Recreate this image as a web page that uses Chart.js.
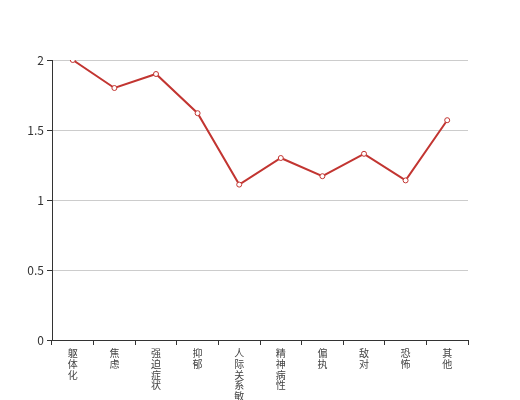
<!DOCTYPE html>
<html>
<head>
<meta charset="utf-8">
<script src="https://cdn.jsdelivr.net/npm/chart.js@4"></script>
<style>
  body { margin: 0; background: #fff; }
  #wrap { width: 520px; height: 400px; }
</style>
</head>
<body>
<div id="wrap"><canvas id="myChart"></canvas></div>
<script>
// 类别与数值
const categories = ['躯体化', '焦虑', '强迫症状', '抑郁', '人际关系敏感', '精神病性', '偏执', '敌对', '恐怖', '其他'];
const scores = [2.0, 1.8, 1.9, 1.62, 1.11, 1.30, 1.17, 1.33, 1.14, 1.57];
const yTicks = [0, 0.5, 1, 1.5, 2];

// 竖排文字：每个字一行
const verticalLabels = categories.map(c => c.split(''));

const ctx = document.getElementById('myChart').getContext('2d');
const myChart = new Chart(ctx, {
  type: 'line',
  data: {
    labels: verticalLabels,
    datasets: [{
      data: scores,
      borderColor: '#c23531',
      borderWidth: 2,
      backgroundColor: '#fff',
      pointBackgroundColor: '#fff',
      pointBorderColor: '#c23531',
      pointBorderWidth: 1,
      pointRadius: 2.5,
      tension: 0,
      fill: false
    }]
  },
  options: {
    responsive: true,
    maintainAspectRatio: false,
    animation: false,
    layout: { padding: { top: 60, right: 52, left: 0, bottom: 0 } },
    plugins: { legend: { display: false }, tooltip: { enabled: false } },
    scales: {
      x: {
        offset: true,
        grid: { offset: true, drawOnChartArea: false, drawTicks: true, tickLength: 5, tickColor: '#333' },
        border: { color: '#333' },
        ticks: {
          color: '#444',
          font: { size: 10, family: '"Noto Sans CJK SC", sans-serif', lineHeight: '10.7px' },
          padding: 3,
          maxRotation: 0,
          autoSkip: false
        },
        afterFit: scale => { scale.height = 60; }
      },
      y: {
        min: 0,
        max: 2,
        afterBuildTicks: scale => { scale.ticks = yTicks.map(v => ({ value: v })); },
        grid: { color: '#ccc', tickColor: '#333', tickLength: 5 },
        border: { color: '#333' },
        ticks: {
          color: '#333',
          font: { size: 12, family: '"Noto Sans CJK SC", sans-serif' },
          padding: 3,
          callback: v => String(v)
        },
        afterFit: scale => { scale.width = 52; }
      }
    }
  }
});
</script>
</body>
</html>
